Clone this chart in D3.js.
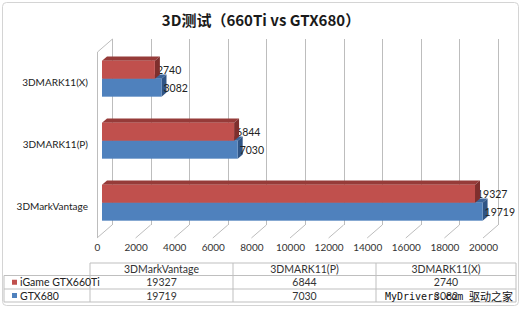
<!DOCTYPE html>
<html><head><meta charset="utf-8">
<script src="https://cdn.jsdelivr.net/npm/d3@7"></script>
<style>body{margin:0;background:#fff}svg{display:block}</style>
</head><body><svg id="c" width="522" height="313"></svg>
<script>
const title = "3D测试（660Ti vs GTX680）";
const categories = ["3DMarkVantage", "3DMARK11(P)", "3DMARK11(X)"];
const seriesNames = ["iGame GTX660Ti", "GTX680"];
const igameValues = [19327, 6844, 2740];
const gtx680Values = [19719, 7030, 3082];
const xTicks = [0, 2000, 4000, 6000, 8000, 10000, 12000, 14000, 16000, 18000, 20000];
const watermark = ["MyDrivers.com", "驱动之家"];

const series = [igameValues, gtx680Values];
const colors = [
  {front: "#C0504D", top: "#963B39", side: "#7E2F2D"},
  {front: "#4F81BD", top: "#3C659A", side: "#2F5485"}
];

const svg = d3.select("#c");
const font = "Lato, 'Open Sans', sans-serif";

// outer frame
svg.append("rect").attr("x", 2.5).attr("y", 2.5).attr("width", 516).attr("height", 303)
  .attr("rx", 4).attr("fill", "#fff").attr("stroke", "#D4D4D4");

// title
svg.append("text").attr("x", 261).attr("y", 26).attr("text-anchor", "middle")
  .attr("font-family", "'Noto Sans CJK SC', sans-serif").attr("font-weight", "bold")
  .attr("font-size", 15).attr("fill", "#1a1a1a").text(title);

const fx0 = 97, fx1 = 483, fy0 = 52, fy1 = 238, DX = 15, DY = -13;
const x = d3.scaleLinear().domain([0, 20000]).range([fx0, fx1]);
const y = d3.scaleBand().domain(categories.slice().reverse()).range([fy0, fy1])
  .paddingInner(0.42).paddingOuter(0.21);
const ys = d3.scaleBand().domain([0, 1]).range([0, y.bandwidth()]);
const bdx = 5, bdy = -4.3;

const grid = svg.append("g").attr("stroke", "#BDBDBD").attr("stroke-width", 1).attr("fill", "none");
xTicks.forEach(t => {
  const xb = Math.round(x(t) + DX) + 0.5;
  grid.append("line").attr("x1", xb).attr("x2", xb).attr("y1", fy0 + DY).attr("y2", fy1 + DY);
  grid.append("line").attr("x1", x(t)).attr("y1", fy1).attr("x2", x(t) + DX).attr("y2", fy1 + DY);
});
grid.append("line").attr("x1", fx0 + 0.5).attr("x2", fx0 + 0.5).attr("y1", fy0).attr("y2", fy1);
grid.append("line").attr("x1", fx0 + 0.5).attr("y1", fy0).attr("x2", fx0 + DX + 0.5).attr("y2", fy0 + DY);

// x axis labels
const xAxis = d3.axisBottom(x).tickValues(xTicks).tickSize(0).tickPadding(0).tickFormat(d3.format("d"));
const gx = svg.append("g").attr("transform", `translate(0,${fy1 + 3})`).call(xAxis);
gx.select(".domain").remove();
gx.selectAll("text").attr("font-family", font).attr("font-size", 10).attr("fill", "#333").attr("dy", "1em");

// y axis labels
const yAxis = d3.axisLeft(y).tickSize(0).tickPadding(9);
const gy = svg.append("g").attr("transform", `translate(${fx0},0)`).call(yAxis);
gy.select(".domain").remove();
gy.selectAll("text").attr("font-family", font).attr("font-size", 10).attr("fill", "#222");

function drawBar(g, v, yTop, h, c) {
  const x0 = x(0) + bdx, x1 = x(v) + bdx;
  const y0 = yTop + bdy, y1 = y0 + h;
  g.append("polygon").attr("fill", c.top)
    .attr("points", [[x0, y0], [x1, y0], [x1 + bdx, y0 + bdy], [x0 + bdx, y0 + bdy]].join(" "));
  g.append("polygon").attr("fill", c.side)
    .attr("points", [[x1, y0], [x1 + bdx, y0 + bdy], [x1 + bdx, y1 + bdy], [x1, y1]].join(" "));
  g.append("rect").attr("x", x0).attr("y", y0).attr("width", x1 - x0).attr("height", h).attr("fill", c.front);
}
const labelStyle = sel => sel.attr("font-family", font).attr("font-size", 10.5).attr("fill", "#222");

const labelsBelow = svg.append("g");
categories.forEach((cat, i) => {
  const h = ys.bandwidth();
  labelsBelow.append("text").call(labelStyle)
    .attr("x", x(series[0][i]) + bdx + 2).attr("y", y(cat) + ys(0) + bdy + h / 2 + 4).text(series[0][i]);
});
const barsTop = svg.append("g");
categories.forEach((cat, i) => {
  const h = ys.bandwidth();
  [1, 0].forEach(s => drawBar(barsTop, series[s][i], y(cat) + ys(s), h, colors[s]));
});
categories.forEach((cat, i) => {
  const h = ys.bandwidth();
  svg.append("text").call(labelStyle)
    .attr("x", x(series[1][i]) + bdx + 2).attr("y", y(cat) + ys(1) + bdy + h / 2 + 4).text(series[1][i]);
});

// data table
const cols = [4, 90, 233, 376, 516];
const rows = [263, 275.5, 289, 302];
const tg = svg.append("g").attr("stroke", "#BFBFBF").attr("fill", "none");
tg.append("line").attr("x1", cols[1]).attr("x2", cols[4]).attr("y1", rows[0]).attr("y2", rows[0]);
rows.slice(1).forEach(r => tg.append("line").attr("x1", cols[0]).attr("x2", cols[4]).attr("y1", r).attr("y2", r));
cols.slice(1).forEach(c => tg.append("line").attr("x1", c).attr("x2", c).attr("y1", rows[0]).attr("y2", rows[3]));
tg.append("line").attr("x1", cols[0]).attr("x2", cols[0]).attr("y1", rows[1]).attr("y2", rows[3]);

const tfont = sel => sel.attr("font-family", font).attr("font-size", 10.5).attr("fill", "#333").attr("text-anchor", "middle");
categories.forEach((cat, j) => {
  const cx = (cols[j + 1] + cols[j + 2]) / 2;
  svg.append("text").call(tfont).attr("x", cx).attr("y", (rows[0] + rows[1]) / 2 + 4).text(cat);
  series.forEach((vals, s) => {
    svg.append("text").call(tfont).attr("x", cx).attr("y", (rows[s + 1] + rows[s + 2]) / 2 + 4).text(vals[j]);
  });
});
seriesNames.forEach((name, s) => {
  const cy = (rows[s + 1] + rows[s + 2]) / 2;
  svg.append("rect").attr("x", 12).attr("y", cy - 2.5).attr("width", 5).attr("height", 5).attr("fill", colors[s].front);
  svg.append("text").attr("font-family", font).attr("font-size", 10.5).attr("fill", "#222")
    .attr("x", 20).attr("y", cy + 4).text(name);
});

// watermark
svg.append("text").attr("x", 385).attr("y", 300).attr("font-family", "'DejaVu Sans Mono', monospace")
  .attr("font-size", 10).attr("fill", "#111").text(watermark[0]);
svg.append("text").attr("x", 469).attr("y", 301).attr("font-family", "'Noto Sans CJK SC', sans-serif")
  .attr("font-size", 11).attr("fill", "#111").text(watermark[1]);
</script></body></html>
